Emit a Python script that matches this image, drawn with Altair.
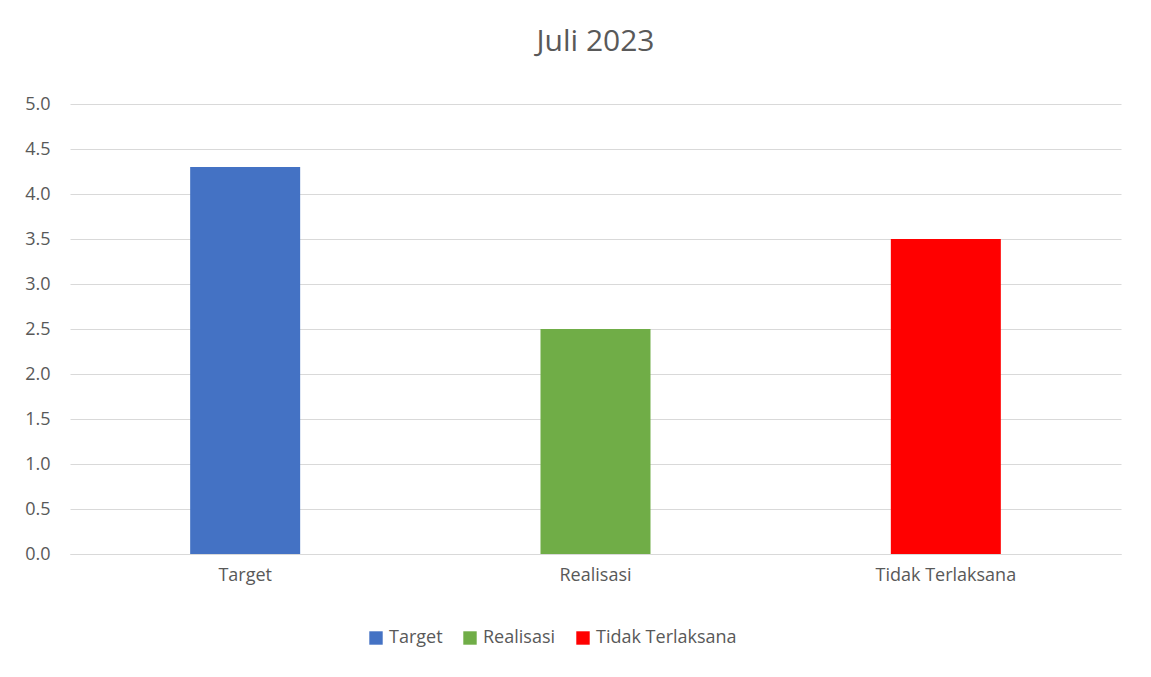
import altair as alt
import pandas as pd

categories = ["Target", "Realisasi", "Tidak Terlaksana"]
values = [4.3, 2.5, 3.5]
colors = ["#4472C4", "#70AD47", "#FF0000"]

df = pd.DataFrame({"kategori": categories, "nilai": values})

font = "Open Sans"

chart = alt.Chart(df).mark_bar(size=110).encode(
    x=alt.X("kategori:N", sort=categories, title=None,
            axis=alt.Axis(labelAngle=0, labelFontSize=18, labelColor="#595959",
                          labelFont=font, domainColor="#d9d9d9", ticks=False,
                          labelPadding=12)),
    y=alt.Y("nilai:Q", title=None, scale=alt.Scale(domain=[0, 5]),
            axis=alt.Axis(values=[0, 0.5, 1, 1.5, 2, 2.5, 3, 3.5, 4, 4.5, 5],
                          labelFontSize=18, labelColor="#595959", labelFont=font,
                          domain=False, ticks=False, gridColor="#d9d9d9",
                          labelPadding=20)),
    color=alt.Color("kategori:N", sort=categories,
                    scale=alt.Scale(domain=categories, range=colors),
                    legend=alt.Legend(title=None, orient="none", direction="horizontal",
                                      legendX=297, legendY=525, symbolType="square",
                                      symbolSize=180, labelFontSize=18, labelFont=font,
                                      labelColor="#595959", columnPadding=18,
                                      symbolStrokeWidth=0)),
).properties(
    width=1051,
    height=450,
    title=alt.TitleParams("Juli 2023", fontSize=30, font=font, fontWeight="normal",
                          color="#595959", offset=38),
    autosize=alt.AutoSizeParams(type="none"),
    padding={"left": 62, "top": 96, "right": 20, "bottom": 100},
).configure_view(stroke=None)

chart.save("out.html", embed_options={"renderer": "svg", "actions": False})
